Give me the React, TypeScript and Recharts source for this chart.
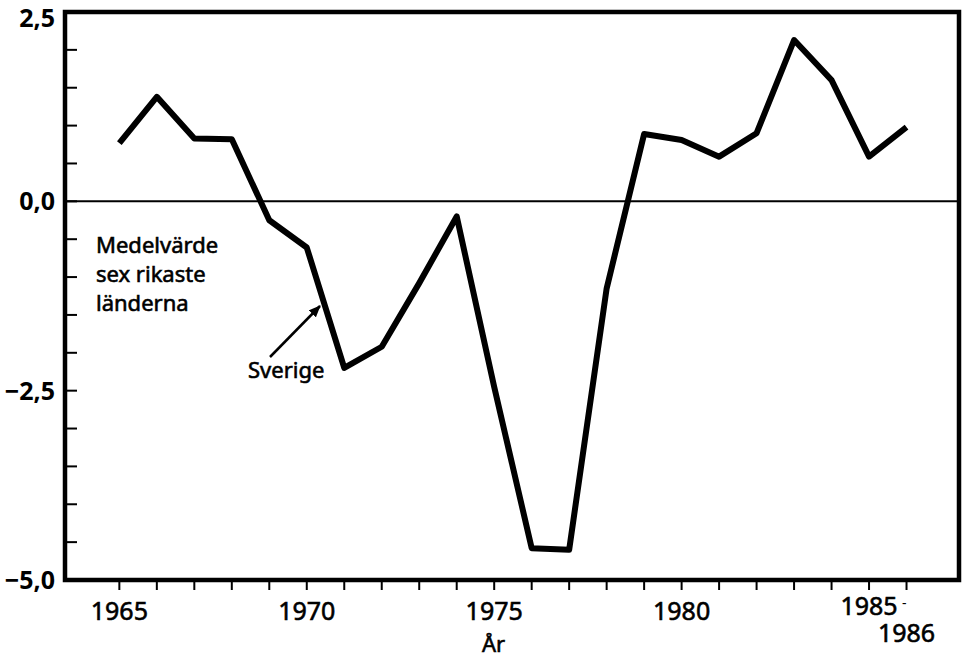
import { LineChart, Line, XAxis, YAxis, ReferenceLine, ReferenceArea } from 'recharts'

const years = [
  1965, 1966, 1967, 1968, 1969, 1970, 1971, 1972, 1973, 1974, 1975,
  1976, 1977, 1978, 1979, 1980, 1981, 1982, 1983, 1984, 1985, 1986,
]
const sverige = [
  0.77, 1.38, 0.83, 0.82, -0.25, -0.61, -2.2, -1.92, -1.08, -0.2, -2.45,
  -4.58, -4.6, -1.15, 0.89, 0.81, 0.59, 0.9, 2.13, 1.6, 0.59, 0.98,
]
const yTicks = [-5, -4.5, -4, -3.5, -3, -2.5, -2, -1.5, -1, -0.5, 0, 0.5, 1, 1.5, 2, 2.5]
const yLabels: Record<string, string> = { '2.5': '2,5', '0': '0,0', '-2.5': '\u22122,5', '-5': '\u22125,0' }
const xLabels: Record<number, string> = { 1965: '1965', 1970: '1970', 1975: '1975', 1980: '1980', 1985: '1985' }

const X_MIN = 1963.55
const X_MAX = 1987.4

const data = years.map((year, i) => ({ year, value: sverige[i] }))

const FONT = '"Noto Sans", sans-serif'
// thin stroke on text to get the heavier look of the printed font
const heavy = { stroke: '#000', strokeWidth: 0.6 }

const YTick = ({ x, y, payload }: any) => {
  const label = yLabels[String(payload.value)]
  // top label sits lower so it stays inside the picture
  const ty = payload.value === 2.5 ? y + 15 : y + 9
  return (
    <g>
      <line x1={x} x2={x + 12} y1={y} y2={y} stroke="#000" strokeWidth={2} />
      {label && (
        <text x={x - 10} y={ty} textAnchor="end" fontSize={25} fontWeight="bold" fontFamily={FONT} fill="#000">
          {label}
        </text>
      )}
    </g>
  )
}

const XTick = ({ x, y, payload }: any) => {
  const v = payload.value
  return (
    <g>
      <line x1={x} x2={x} y1={y} y2={y + 10} stroke="#000" strokeWidth={2} />
      {xLabels[v] && (
        <text x={x} y={y + (v === 1985 ? 35 : 40)} textAnchor="middle" fontSize={25} fontFamily={FONT} fill="#000" {...heavy}>
          {xLabels[v]}
        </text>
      )}
      {v === 1985 && (
        <text x={x + 33} y={y + 28} fontSize={14} fontFamily={FONT} fill="#000">
          -
        </text>
      )}
      {v === 1986 && (
        <text x={x} y={y + 62} textAnchor="middle" fontSize={25} fontFamily={FONT} fill="#000" {...heavy}>
          1986
        </text>
      )}
    </g>
  )
}

const App = () => (
  <div style={{ position: 'absolute', left: 0, top: 0, background: '#fff' }}>
    <LineChart width={966} height={658} data={data} margin={{ top: 12, right: 7, left: 0, bottom: 0 }}>
      <XAxis
        dataKey="year"
        type="number"
        domain={[X_MIN, X_MAX]}
        ticks={years}
        interval={0}
        height={78}
        axisLine={false}
        tickLine={false}
        tickSize={0}
        tickMargin={0}
        tick={<XTick />}
        allowDataOverflow
      />
      <YAxis
        type="number"
        domain={[-5, 2.5]}
        ticks={yTicks}
        interval={0}
        width={65}
        axisLine={false}
        tickLine={false}
        tickSize={0}
        tickMargin={0}
        tick={<YTick />}
        allowDataOverflow
      />
      <ReferenceLine y={0} stroke="#000" strokeWidth={2} />
      <ReferenceArea x1={X_MIN} x2={X_MAX} y1={-5} y2={2.5} fill="none" fillOpacity={0} stroke="#000" strokeWidth={4.5} ifOverflow="visible" />
      <Line
        dataKey="value"
        stroke="#000"
        strokeWidth={6}
        strokeLinejoin="round"
        dot={false}
        activeDot={false}
        isAnimationActive={false}
      />
      {/* annotation */}
      <g fontFamily={FONT} fontSize={22} fill="#000" {...heavy}>
        <text x={96} y={253}>Medelvärde</text>
        <text x={96} y={282}>sex rikaste</text>
        <text x={96} y={311}>länderna</text>
        <text x={248} y={378}>Sverige</text>
        <text x={482} y={652}>År</text>
      </g>
      <defs>
        <marker id="arrowhead" markerWidth="12" markerHeight="10" refX="11" refY="5" orient="auto" markerUnits="userSpaceOnUse">
          <path d="M0,0 L12,5 L0,10 Z" fill="#000" />
        </marker>
      </defs>
      <line x1={270} y1={357} x2={320} y2={306} stroke="#000" strokeWidth={2.5} markerEnd="url(#arrowhead)" />
    </LineChart>
  </div>
)

export default App
